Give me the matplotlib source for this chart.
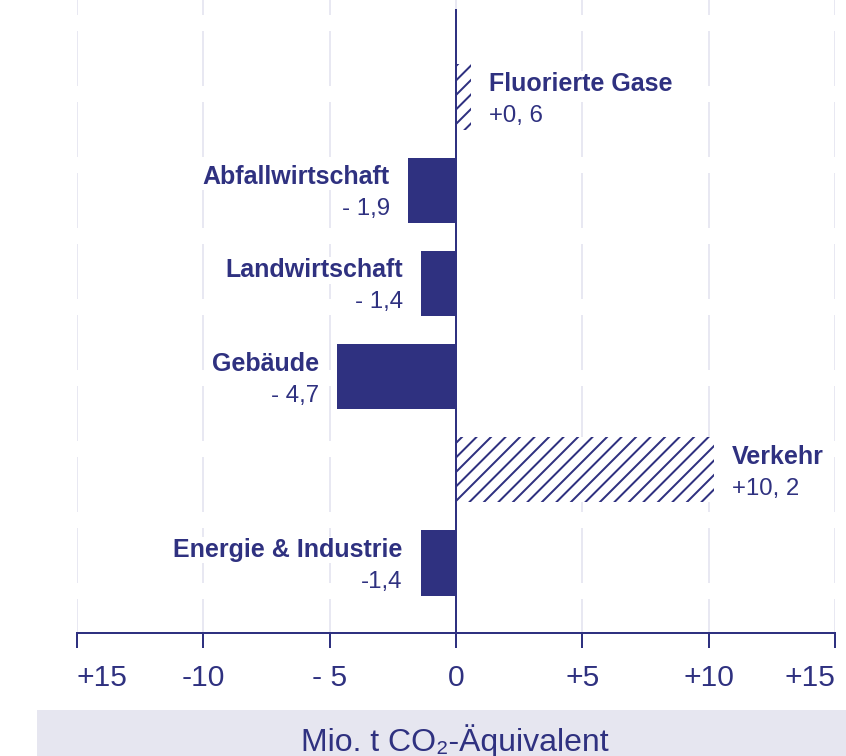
import matplotlib
matplotlib.use("Agg")
import matplotlib.pyplot as plt
from matplotlib.patches import Rectangle

# figure is worked out in pixels; PX turns a pixel size into points
DPI = 87
W, H = 846, 756
PX = 72 / DPI

categories = ["Fluorierte Gase", "Abfallwirtschaft", "Landwirtschaft",
              "Gebäude", "Verkehr", "Energie & Industrie"]
changes = [0.6, -1.9, -1.4, -4.7, 10.2, -1.4]
value_labels = ["+0, 6", "- 1,9", "- 1,4", "- 4,7", "+10, 2", "-1,4"]
tick_values = [-15, -10, -5, 0, 5, 10, 15]
tick_labels = ["+15", "-10", "- 5", "0", "+5", "+10", "+15"]
xlabel = "Mio. t CO₂-Äquivalent"

NAVY = "#2f3180"
GRID = "#e8e8f2"
BAND = "#e6e6f0"

plt.rcParams["font.family"] = ["Liberation Sans", "DejaVu Sans"]
plt.rcParams["hatch.linewidth"] = 2 * PX
plt.rcParams["lines.scale_dashes"] = False

fig = plt.figure(figsize=(W / DPI, H / DPI), dpi=DPI)
ax = fig.add_axes([77 / W, 123 / H, 758 / W, 633 / H])

# bars: increases hatched, decreases solid
for y, v in enumerate(changes):
    if v > 0:
        ax.barh(y, v, height=0.7, facecolor="white", edgecolor=NAVY,
                linewidth=0, hatch="//", zorder=2)
    else:
        ax.barh(y, v, height=0.7, color=NAVY, linewidth=0, zorder=2)

# labels next to the bar ends
for y, (v, name, val) in enumerate(zip(changes, categories, value_labels)):
    sign = 1 if v > 0 else -1
    ha = "left" if v > 0 else "right"
    box = dict(facecolor="white", edgecolor="none", pad=1)
    ax.annotate(name, (v, y), xytext=(sign * 18 * PX, 6 * PX),
                textcoords="offset points", ha=ha, va="baseline",
                fontsize=25 * PX, fontweight="bold", color=NAVY, bbox=box,
                zorder=4)
    ax.annotate(val, (v, y), xytext=(sign * 18 * PX, -25 * PX),
                textcoords="offset points", ha=ha, va="baseline",
                fontsize=24 * PX, color=NAVY, bbox=box, zorder=4)

ax.axvline(0, ymin=0, ymax=(633 - 10) / 633, color=NAVY, lw=2 * PX, zorder=3)

ax.set_xlim(-15, 15)
ax.set_ylim(5.751, -1.041)
ax.set_xticks(tick_values, tick_labels)
ax.set_yticks([])
ax.tick_params(axis="x", length=15 * PX, width=2 * PX, color=NAVY,
               labelcolor=NAVY, labelsize=30 * PX, pad=16 * PX)
# outer labels sit inside the axis ends
xt = ax.get_xticklabels()
xt[0].set_ha("left")
xt[-1].set_ha("right")
for side in ["top", "left", "right"]:
    ax.spines[side].set_visible(False)
ax.spines["bottom"].set_color(NAVY)
ax.spines["bottom"].set_linewidth(2 * PX)
ax.grid(axis="x", color=GRID, linewidth=2 * PX,
        linestyle=(21 * PX, (55 * PX, 16 * PX)))
ax.set_axisbelow(True)
ax.patch.set_visible(False)

# unit band at the bottom
fig.add_artist(Rectangle((37 / W, 0), 1 - 37 / W, 46 / H,
                         transform=fig.transFigure, facecolor=BAND,
                         edgecolor="none", zorder=0))
fig.text(455 / W, 5 / H, xlabel, ha="center", va="baseline",
         fontsize=32 * PX, color=NAVY)

fig.savefig("out.png", dpi=DPI)
